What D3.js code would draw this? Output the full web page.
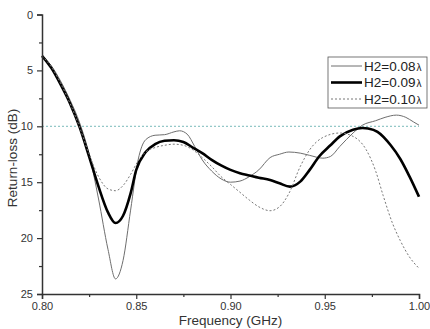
<!DOCTYPE html>
<html>
<head>
<meta charset="utf-8">
<script src="https://cdn.jsdelivr.net/npm/d3@7"></script>
<style>
    body { margin: 0; background: #fff; }
    svg { display: block; font-family: "Liberation Sans", Arial, sans-serif; }
</style>
</head>
<body>
<svg id="chart" width="430" height="329"></svg>
<script>
var freq_h08 = [0.800, 0.805, 0.810, 0.815, 0.820, 0.825, 0.830, 0.835, 0.839, 0.843, 0.847, 0.851, 0.855, 0.860, 0.865, 0.870, 0.873, 0.877, 0.881, 0.885, 0.890, 0.895, 0.900, 0.905, 0.910, 0.915, 0.921, 0.926, 0.931, 0.937, 0.942, 0.949, 0.953, 0.958, 0.965, 0.970, 0.977, 0.982, 0.988, 0.993, 0.997, 1.000];
var loss_h08 = [3.7, 4.6, 6.0, 7.7, 9.7, 12.5, 16.5, 21.0, 23.65, 22.0, 17.5, 13.0, 11.2, 10.8, 10.75, 10.5, 10.4, 10.7, 11.8, 13.0, 14.0, 14.7, 15.0, 14.9, 14.5, 13.9, 12.8, 12.5, 12.3, 12.4, 12.6, 12.85, 12.7, 11.8, 10.6, 9.9, 9.5, 9.2, 9.0, 9.2, 9.6, 9.9];

var freq_h09 = [0.800, 0.805, 0.810, 0.815, 0.820, 0.825, 0.830, 0.835, 0.839, 0.843, 0.847, 0.850, 0.855, 0.860, 0.865, 0.870, 0.875, 0.880, 0.885, 0.890, 0.895, 0.900, 0.905, 0.910, 0.915, 0.921, 0.926, 0.9315, 0.937, 0.942, 0.947, 0.953, 0.958, 0.965, 0.970, 0.973, 0.978, 0.985, 0.990, 0.995, 1.000];
var loss_h09 = [3.7, 4.8, 6.3, 8.0, 10.1, 12.7, 15.4, 17.7, 18.65, 18.0, 16.0, 13.9, 12.3, 11.6, 11.3, 11.25, 11.4, 11.9, 12.4, 13.0, 13.5, 13.9, 14.2, 14.4, 14.6, 14.8, 15.1, 15.4, 14.95, 13.9, 12.7, 11.7, 10.9, 10.3, 10.15, 10.2, 10.5, 11.7, 12.9, 14.5, 16.3];

var freq_h10 = [0.800, 0.805, 0.810, 0.815, 0.820, 0.825, 0.830, 0.835, 0.839, 0.843, 0.847, 0.851, 0.855, 0.860, 0.865, 0.870, 0.875, 0.880, 0.885, 0.890, 0.895, 0.900, 0.905, 0.910, 0.915, 0.921, 0.926, 0.931, 0.937, 0.942, 0.949, 0.958, 0.965, 0.972, 0.977, 0.981, 0.986, 0.990, 0.995, 1.000];
var loss_h10 = [3.7, 4.7, 6.2, 8.0, 10.1, 12.5, 14.5, 15.6, 15.76, 15.3, 14.3, 13.1, 12.3, 11.9, 11.7, 11.6, 11.7, 12.1, 12.8, 13.6, 14.5, 15.2, 15.9, 16.6, 17.2, 17.55, 17.2, 16.0, 13.6, 12.1, 11.0, 10.6, 10.9, 12.1, 14.0, 16.2, 18.7, 20.2, 21.7, 22.7];

var series_names = ["H2=0.08", "H2=0.09", "H2=0.10"];
var x_ticks = [0.80, 0.85, 0.90, 0.95, 1.00];
var y_ticks = [0, 5, 10, 15, 20, 25];
var ref_level = 10;

var margin = {left: 42, right: 11, top: 14.5, bottom: 35};
var width = 430, height = 329;

var svg = d3.select("#chart");

var x = d3.scaleLinear().domain([0.8, 1.0]).range([margin.left, width - margin.right]);
var y = d3.scaleLinear().domain([0, 25]).range([margin.top, height - margin.bottom]);

var series = [
    {name: series_names[0], f: freq_h08, v: loss_h08, color: "#6e6e6e", w: 1, dash: null},
    {name: series_names[1], f: freq_h09, v: loss_h09, color: "#000", w: 2.6, dash: null},
    {name: series_names[2], f: freq_h10, v: loss_h10, color: "#777", w: 1, dash: "2,2"}
];

// reference line at -10 dB
svg.append("line")
    .attr("x1", x(0.8)).attr("x2", x(1.0))
    .attr("y1", y(ref_level)).attr("y2", y(ref_level))
    .attr("stroke", "#3f9c9c")
    .attr("stroke-width", 0.7)
    .attr("stroke-dasharray", "2,2");

var line = d3.line()
    .x(function(d) { return x(d[0]); })
    .y(function(d) { return y(d[1]); })
    .curve(d3.curveMonotoneX);

svg.selectAll("path.curve")
    .data(series)
    .enter()
    .append("path")
    .attr("class", "curve")
    .attr("fill", "none")
    .attr("stroke", function(d) { return d.color; })
    .attr("stroke-width", function(d) { return d.w; })
    .attr("stroke-dasharray", function(d) { return d.dash; })
    .attr("d", function(d) { return line(d.f.map(function(f, i) { return [f, d.v[i]]; })); });

// axes
svg.append("g")
    .attr("transform", "translate(0," + y(25) + ")")
    .call(d3.axisBottom(x).tickValues(x_ticks).tickFormat(d3.format(".2f")).tickSize(5).tickPadding(3));

svg.append("g")
    .attr("transform", "translate(0," + y(25) + ")")
    .call(d3.axisBottom(x).tickValues([0.825, 0.875, 0.925, 0.975]).tickFormat("").tickSize(3))
    .select(".domain").remove();

svg.append("g")
    .attr("transform", "translate(" + x(0.8) + ",0)")
    .call(d3.axisLeft(y).tickValues(y_ticks).tickSize(5).tickPadding(4));

svg.append("g")
    .attr("transform", "translate(" + x(0.8) + ",0)")
    .call(d3.axisLeft(y).tickValues([2.5, 7.5, 12.5, 17.5, 22.5]).tickFormat("").tickSize(3))
    .select(".domain").remove();

svg.selectAll(".domain").attr("stroke", "#333").attr("stroke-width", 1.5);
svg.selectAll(".tick line").attr("stroke", "#333").attr("stroke-width", 1.2);
svg.selectAll(".tick text").attr("fill", "#333").style("font-size", "11px");

svg.append("text")
    .attr("x", x(0.9))
    .attr("y", 325)
    .attr("text-anchor", "middle")
    .attr("fill", "#333")
    .style("font-size", "13.5px")
    .text("Frequency (GHz)");

svg.append("text")
    .attr("transform", "translate(17,158) rotate(-90)")
    .attr("text-anchor", "middle")
    .attr("fill", "#333")
    .style("font-size", "13.5px")
    .text("Return-loss (dB)");

// legend
var legend = svg.append("g").attr("transform", "translate(328,57)");

legend.append("rect")
    .attr("width", 99).attr("height", 51)
    .attr("fill", "#fff")
    .attr("stroke", "#555")
    .attr("stroke-width", 0.8);

var items = legend.selectAll("g.item")
    .data(series)
    .enter()
    .append("g")
    .attr("class", "item")
    .attr("transform", function(d, i) { return "translate(0," + (9 + i * 16.5) + ")"; });

items.append("line")
    .attr("x1", 3).attr("x2", 34)
    .attr("stroke", function(d) { return d.color; })
    .attr("stroke-width", function(d) { return d.w; })
    .attr("stroke-dasharray", function(d) { return d.dash; });

var lt = items.append("text")
    .attr("x", 36)
    .attr("dy", "0.36em")
    .attr("fill", "#222")
    .style("font-size", "13.5px")
    .text(function(d) { return d.name; });

lt.append("tspan")
    .style("font-size", "10px")
    .attr("dx", 1)
    .text("λ");
</script>
</body>
</html>
